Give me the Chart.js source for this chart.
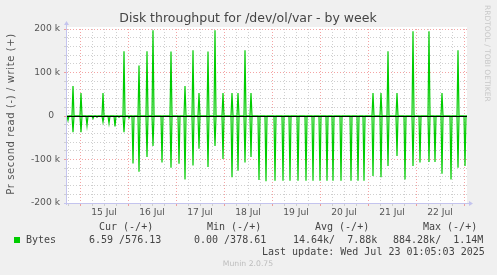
<!DOCTYPE html>
<html>
<head>
<meta charset="utf-8">
<script src="https://cdn.jsdelivr.net/npm/chart.js@4.4.1/dist/chart.umd.min.js"></script>
<style>
  body { margin: 0; background: #f0f0f0; }
  #chart { display: block; }
</style>
</head>
<body>
<canvas id="chart" width="497" height="275"></canvas>
<script>
// hours since 15 Jul 00:00, one sample every 30 min
const startHour = -6.5;
const endHour = 193.5;
const spikeHours = [-6, -3.5, 0.5, 3.5, 6.5, 8.5, 11.5, 14.5, 17.5, 19.5, 22, 24.5, 26.5, 29.5,
  33.5, 36.5, 41, 45.5, 49.5, 52.5, 56.5, 59.5, 64, 67.5, 71.5, 76, 79, 82.5, 85.5, 89.5,
  93, 97.5, 101.5, 105, 109, 113, 116.5, 120, 123.5, 126.5, 130.5, 135.5, 139, 142,
  146.5, 150.5, 154, 158.5, 162.5, 166.5, 170, 174.5, 177.5, 181, 185.5, 189, 192.5];
// write (+) and read (-) in k bytes/s
const writeK = [0, 69, 53, 0, 0, 0, 53, 0, 0, 0, 149, 0, 0, 116,
  149, 197, 0, 148, 0, 69, 151, 53, 148, 197, 53, 53, 53, 151, 53, 0,
  0, 0, 0, 0, 0, 0, 0, 0, 0, 0, 0, 0, 0, 0,
  53, 53, 149, 53, 0, 195, 0, 195, 0, 53, 0, 151, 0];
const readK = [-10, -37, -37, -22, -6, -3, -14, -17, -24, -3, -37, -5, -109, -128,
  -94, -69, -107, -119, -110, -146, -114, -75, -117, -69, -99, -141, -126, -107, -94, -147,
  -150, -149, -149, -149, -149, -149, -149, -149, -149, -149, -149, -149, -149, -149,
  -138, -141, -115, -92, -146, -115, -107, -106, -106, -133, -146, -119, -115];

const dayLabelHours = [12, 36, 60, 84, 108, 132, 156, 180];
const dayLabels = ['15 Jul', '16 Jul', '17 Jul', '18 Jul', '19 Jul', '20 Jul', '21 Jul', '22 Jul'];
const yMajorLabels = { '200': '200 k', '100': '100 k', '0': '0  ', '-100': '-100 k', '-200': '-200 k' };

const green = '#00cc00';
const majorGrid = 'rgba(235,90,90,0.55)';
const minorGrid = '#cfcfcf';

function spikeLine(values) {
  const pts = [{ x: startHour, y: 0 }];
  spikeHours.forEach((h, i) => {
    if (!values[i]) return;
    pts.push({ x: h - 0.5, y: 0 }, { x: h, y: values[i] }, { x: h + 0.5, y: 0 });
  });
  pts.push({ x: endHour, y: 0 });
  return pts;
}

const munin = {
  id: 'munin',
  beforeDraw(chart) {
    const { ctx, chartArea: a } = chart;
    ctx.save();
    ctx.fillStyle = '#f0f0f0';
    ctx.fillRect(0, 0, chart.width, chart.height);
    ctx.fillStyle = '#ffffff';
    ctx.fillRect(a.left, a.top - 2, a.right - a.left, a.bottom - a.top + 2);
    ctx.restore();
  },
  afterDatasetsDraw(chart) {
    const { ctx, chartArea: a, scales } = chart;
    const y0 = Math.round(scales.y.getPixelForValue(0)) + 0.5;
    ctx.save();
    // zero line
    ctx.strokeStyle = '#000';
    ctx.lineWidth = 1;
    ctx.beginPath();
    ctx.moveTo(a.left, y0);
    ctx.lineTo(a.right, y0);
    ctx.stroke();

    // axes with arrows
    ctx.strokeStyle = '#c4c4ee';
    ctx.fillStyle = '#c4c4ee';
    ctx.beginPath();
    ctx.moveTo(a.left - 0.5, a.bottom + 2);
    ctx.lineTo(a.left - 0.5, a.top - 5);
    ctx.moveTo(a.left - 3, a.bottom + 0.5);
    ctx.lineTo(a.right + 2, a.bottom + 0.5);
    ctx.stroke();
    ctx.beginPath();
    ctx.moveTo(a.left - 3, a.top - 4);
    ctx.lineTo(a.left + 2, a.top - 4);
    ctx.lineTo(a.left - 0.5, a.top - 8);
    ctx.closePath();
    ctx.fill();
    ctx.beginPath();
    ctx.moveTo(a.right + 2, a.bottom - 2);
    ctx.lineTo(a.right + 2, a.bottom + 3);
    ctx.lineTo(a.right + 6, a.bottom + 0.5);
    ctx.closePath();
    ctx.fill();

    // title
    ctx.fillStyle = '#444';
    ctx.font = '12.5px "DejaVu Sans"';
    ctx.textAlign = 'center';
    ctx.textBaseline = 'middle';
    ctx.fillText('Disk throughput for /dev/ol/var - by week', 248, 19);

    // vertical axis title
    ctx.save();
    ctx.translate(11, 114);
    ctx.rotate(-Math.PI / 2);
    ctx.font = '10px "DejaVu Sans"';
    ctx.letterSpacing = '0.6px';
    ctx.fillStyle = '#555';
    ctx.fillText('Pr second read (-) / write (+)', 0, 0);
    ctx.restore();

    // rrdtool credit
    ctx.save();
    ctx.translate(487, 5);
    ctx.rotate(Math.PI / 2);
    ctx.font = '7.5px "DejaVu Sans"';
    ctx.fillStyle = '#c8c8c8';
    ctx.textAlign = 'left';
    ctx.fillText('RRDTOOL / TOBI OETIKER', 0, 0);
    ctx.restore();

    // legend block
    ctx.font = '10px "DejaVu Sans Mono"';
    ctx.fillStyle = '#444';
    ctx.textAlign = 'left';
    ctx.fillText('Cur (-/+)', 99, 227);
    ctx.fillText('Min (-/+)', 207, 227);
    ctx.fillText('Avg (-/+)', 315, 227);
    ctx.fillText('Max (-/+)', 423, 227);
    ctx.fillText('Bytes', 26, 240);
    ctx.fillText('6.59 /576.13', 89, 240);
    ctx.fillText('0.00 /378.61', 194, 240);
    ctx.fillText('14.64k/  7.88k', 293, 240);
    ctx.fillText('884.28k/  1.14M', 393, 240);
    ctx.fillText('Last update: Wed Jul 23 01:05:03 2025', 262, 252);
    ctx.fillStyle = green;
    ctx.fillRect(14, 237, 6, 6);

    ctx.font = '7.7px "DejaVu Sans"';
    ctx.fillStyle = '#bdbdbd';
    ctx.textAlign = 'center';
    ctx.fillText('Munin 2.0.75', 248, 264);
    ctx.restore();
  }
};

new Chart(document.getElementById('chart'), {
  type: 'line',
  data: {
    datasets: [
      { label: 'read', data: spikeLine(readK), borderColor: green, borderWidth: 1.2, pointRadius: 0, tension: 0 },
      { label: 'write', data: spikeLine(writeK), borderColor: green, borderWidth: 1.2, pointRadius: 0, tension: 0 }
    ]
  },
  options: {
    responsive: false,
    animation: false,
    devicePixelRatio: 1,
    layout: { padding: { top: 29, right: 30, bottom: 52, left: 0 } },
    plugins: { legend: { display: false }, tooltip: { enabled: false }, title: { display: false } },
    scales: {
      x: {
        type: 'linear',
        min: startHour,
        max: endHour,
        afterBuildTicks(scale) {
          const ticks = [];
          for (let h = -6; h <= 192; h += 6) ticks.push({ value: h });
          scale.ticks = ticks;
        },
        afterFit(scale) { scale.height = 20; },
        border: { display: false, dash: [1, 2] },
        grid: {
          color: ctx => (ctx.tick && ctx.tick.value % 24 === 0) ? majorGrid : minorGrid,
          tickLength: 3,
          lineWidth: 1
        },
        ticks: {
          autoSkip: false,
          maxRotation: 0,
          padding: 1,
          color: '#555',
          font: { family: 'DejaVu Sans', size: 9.2 },
          callback: v => {
            const i = dayLabelHours.indexOf(v);
            return i >= 0 ? dayLabels[i] : '';
          }
        }
      },
      y: {
        type: 'linear',
        min: -200,
        max: 200,
        afterBuildTicks(scale) {
          const ticks = [];
          for (let v = -200; v <= 200; v += 20) ticks.push({ value: v });
          scale.ticks = ticks;
        },
        afterFit(scale) { scale.width = 67; },
        border: { display: false, dash: [1, 2] },
        grid: {
          color: ctx => (ctx.tick && ctx.tick.value % 100 === 0) ? majorGrid : minorGrid,
          tickLength: 3,
          lineWidth: 1
        },
        ticks: {
          autoSkip: false,
          padding: 4,
          color: '#555',
          font: { family: 'DejaVu Sans', size: 9.2 },
          callback: v => yMajorLabels[String(v)] || ''
        }
      }
    }
  },
  plugins: [munin]
});
</script>
</body>
</html>
